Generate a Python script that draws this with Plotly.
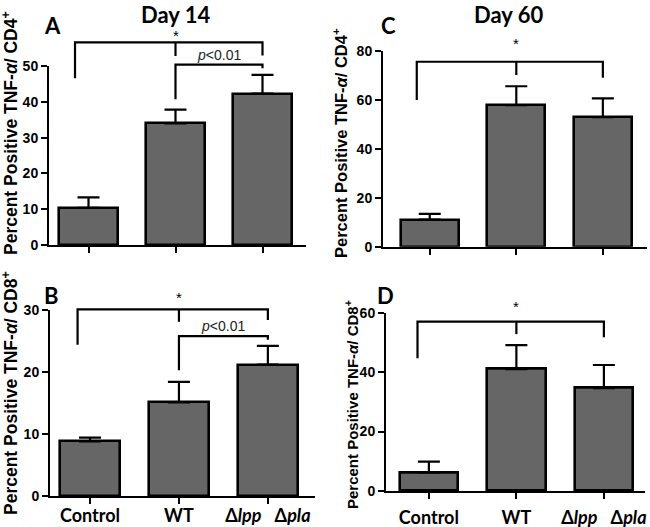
import plotly.graph_objects as go

# ---------------- data ----------------
categories = ["Control", "WT", "Δlpp Δpla"]
tick_text = ["Control", "WT", "Δ<i>lpp</i>&nbsp;&nbsp;&nbsp;Δ<i>pla</i>"]

cd4_day14 = [10.4, 34.0, 42.3]
cd4_day14_err = [2.9, 3.8, 5.2]
cd8_day14 = [8.8, 15.1, 21.2]
cd8_day14_err = [0.6, 3.3, 3.0]
cd4_day60 = [11.1, 57.9, 53.0]
cd4_day60_err = [2.3, 7.7, 7.6]
cd8_day60 = [6.3, 41.0, 34.6]
cd8_day60_err = [3.6, 8.1, 7.8]

# significance bracket heights (data units): top bar, left leg end, mid leg end, right leg end, star y
sig_A = [56.6, 46.6, 52.8, 52.9, 58.4]
sig_B = [30.1, 24.4, 28.1, 28.4, 32.0]
sig_C = [75.6, 60.0, 70.2, 69.1, 83.0]
sig_D = [57.0, 44.7, 52.8, 51.7, 62.2]
# p<0.01 bracket (data units): bar, WT leg end, Δlpp leg end, label y
p_A = [50.4, 40.7, 49.4, 53.0]
p_B = [25.8, 20.3, 25.2, 27.4]

W, H = 650, 527
def xd(px):
    return px / W
def yd(px):
    return 1 - px / H

ARIAL = "Liberation Sans"
CALIBRI = "Lato"

panels = [
    dict(v=cd4_day14, e=cd4_day14_err, ymax=50, dt=10, x0=49, x1=306, ybot=245, ytop=66, ext=0,
         xr=[-0.454, 2.5], sig=sig_A, pb=p_A, yt="CD4", tpos=(10, 133), tsize=17.5, let="A", lpos=(52, 25),
         labels=False, left=-0.155, stand=0),
    dict(v=cd8_day14, e=cd8_day14_err, ymax=30, dt=10, x0=50, x1=315, ybot=496, ytop=310, ext=270,
         xr=[-0.45, 2.53], sig=sig_B, pb=p_B, yt="CD8", tpos=(10, 393), tsize=17.5, let="B", lpos=(51, 295),
         labels=True, left=-0.14, stand=-4),
    dict(v=cd4_day60, e=cd4_day60_err, ymax=80, dt=20, x0=383, x1=647, ybot=246.7, ytop=51, ext=0,
         xr=[-0.54, 2.51], sig=sig_C, pb=None, yt="CD4", tpos=(340, 143), tsize=16.5, let="C", lpos=(388, 25),
         labels=False, left=-0.15, stand=0),
    dict(v=cd8_day60, e=cd8_day60_err, ymax=60, dt=20, x0=386, x1=645, ybot=491, ytop=312.7, ext=270,
         xr=[-0.49, 2.47], sig=sig_D, pb=None, yt="CD8", tpos=(351, 405), tsize=15, let="D", lpos=(385, 295),
         labels=True, left=-0.13, stand=3),
]

fig = go.Figure()
layout = {}
annotations = []
xs = [0, 1, 2]
LINE = 2.2

for i, p in enumerate(panels):
    n = i + 1
    m = i + 5
    xa, ya = f"x{n}", f"y{n}"
    xo, yo = f"x{m}", f"y{m}"
    fig.add_trace(go.Bar(
        x=xs, y=p["v"], xaxis=xa, yaxis=ya, width=0.67,
        marker=dict(color="#666666", line=dict(color="black", width=2.6)),
        error_y=dict(type="data", array=p["e"], arrayminus=[0, 0, 0], symmetric=False,
                     color="black", thickness=2.2, width=11),
        showlegend=False, hoverinfo="skip"))
    xkey = "xaxis" if n == 1 else f"xaxis{n}"
    ykey = "yaxis" if n == 1 else f"yaxis{n}"
    xax = dict(
        domain=[xd(p["x0"]), xd(p["x1"])], range=p["xr"], anchor=ya, automargin=False,
        showline=True, linecolor="black", linewidth=2, showgrid=False, zeroline=False,
        ticks="outside", ticklen=6, tickwidth=1.5, tickcolor="black",
        tickvals=xs, showticklabels=p["labels"],
        tickfont=dict(family=CALIBRI, size=18, color="black"),
        fixedrange=True)
    if p["labels"]:
        xax["ticktext"] = [f"<b>{t}</b>" for t in tick_text]
        xax["ticklabelstandoff"] = p["stand"]
    layout[xkey] = xax
    layout[ykey] = dict(
        domain=[yd(p["ybot"]), yd(p["ytop"])], range=[0, p["ymax"]], anchor=xa, automargin=False,
        showline=True, linecolor="black", linewidth=2, showgrid=False, zeroline=False,
        ticks="outside", ticklen=6, tickwidth=1.5, tickcolor="black",
        tickvals=list(range(0, p["ymax"] + 1, p["dt"])),
        ticktext=[f"<b>{t}</b>" for t in range(0, p["ymax"] + 1, p["dt"])],
        tickfont=dict(family=ARIAL, size=14, color="black"),
        fixedrange=True)
    # overlay axes for significance brackets (same scale, taller domain)
    ext_range = p["ymax"] * (p["ybot"] - p["ext"]) / (p["ybot"] - p["ytop"])
    layout[f"xaxis{m}"] = dict(domain=[xd(p["x0"]), xd(p["x1"])], range=p["xr"], anchor=yo,
                               visible=False, fixedrange=True, automargin=False)
    layout[f"yaxis{m}"] = dict(domain=[yd(p["ybot"]), yd(p["ext"])], range=[0, ext_range], anchor=xo,
                               visible=False, fixedrange=True, automargin=False)
    s = p["sig"]
    L = p["left"]
    fig.add_trace(go.Scatter(
        x=[L, L, 2, 2, None, 1, 1],
        y=[s[1], s[0], s[0], s[3], None, s[0], s[2]],
        xaxis=xo, yaxis=yo, mode="lines", line=dict(color="black", width=LINE),
        showlegend=False, hoverinfo="skip"))
    annotations.append(dict(x=1, y=s[4], xref=xo, yref=yo, text="*", showarrow=False,
                            font=dict(family=ARIAL, size=15, color="black"),
                            yanchor="middle"))
    if p["pb"] is not None:
        q = p["pb"]
        fig.add_trace(go.Scatter(
            x=[1, 1, 2, 2], y=[q[1], q[0], q[0], q[2]],
            xaxis=xo, yaxis=yo, mode="lines", line=dict(color="black", width=LINE),
            showlegend=False, hoverinfo="skip"))
        annotations.append(dict(x=1.5, y=q[3], xref=xo, yref=yo, text="<i>p</i><0.01", showarrow=False,
                                font=dict(family=ARIAL, size=14, color="#222222"),
                                yanchor="middle"))
    # y-axis title
    annotations.append(dict(
        x=xd(p["tpos"][0]), y=yd(p["tpos"][1]), xref="paper", yref="paper",
        text=f"<b>Percent Positive TNF-<i>α</i>/ {p['yt']}<sup>+</sup></b>", textangle=-90, showarrow=False,
        font=dict(family=ARIAL, size=p["tsize"], color="black"),
        xanchor="center", yanchor="middle"))
    # panel letter
    annotations.append(dict(
        x=xd(p["lpos"][0]), y=yd(p["lpos"][1]), xref="paper", yref="paper",
        text=f"<b>{p['let']}</b>", showarrow=False,
        font=dict(family=CALIBRI, size=22, color="black"),
        xanchor="center", yanchor="middle"))

annotations.append(dict(x=xd(175), y=1, xref="paper", yref="paper", text="<b>Day 14</b>",
                        showarrow=False, font=dict(family=CALIBRI, size=22, color="black"),
                        xanchor="center", yanchor="top", borderpad=0))
annotations.append(dict(x=xd(508), y=1, xref="paper", yref="paper", text="<b>Day 60</b>",
                        showarrow=False, font=dict(family=CALIBRI, size=22, color="black"),
                        xanchor="center", yanchor="top", borderpad=0))

fig.update_layout(
    width=W, height=H, margin=dict(l=0, r=0, t=0, b=0, autoexpand=False),
    paper_bgcolor="white", plot_bgcolor="rgba(0,0,0,0)",
    annotations=annotations, showlegend=False, bargap=0,
    **layout)

fig.write_html("out.html", config={"displayModeBar": False},
               post_script="document.body.style.margin='0';document.body.style.padding='0';")
